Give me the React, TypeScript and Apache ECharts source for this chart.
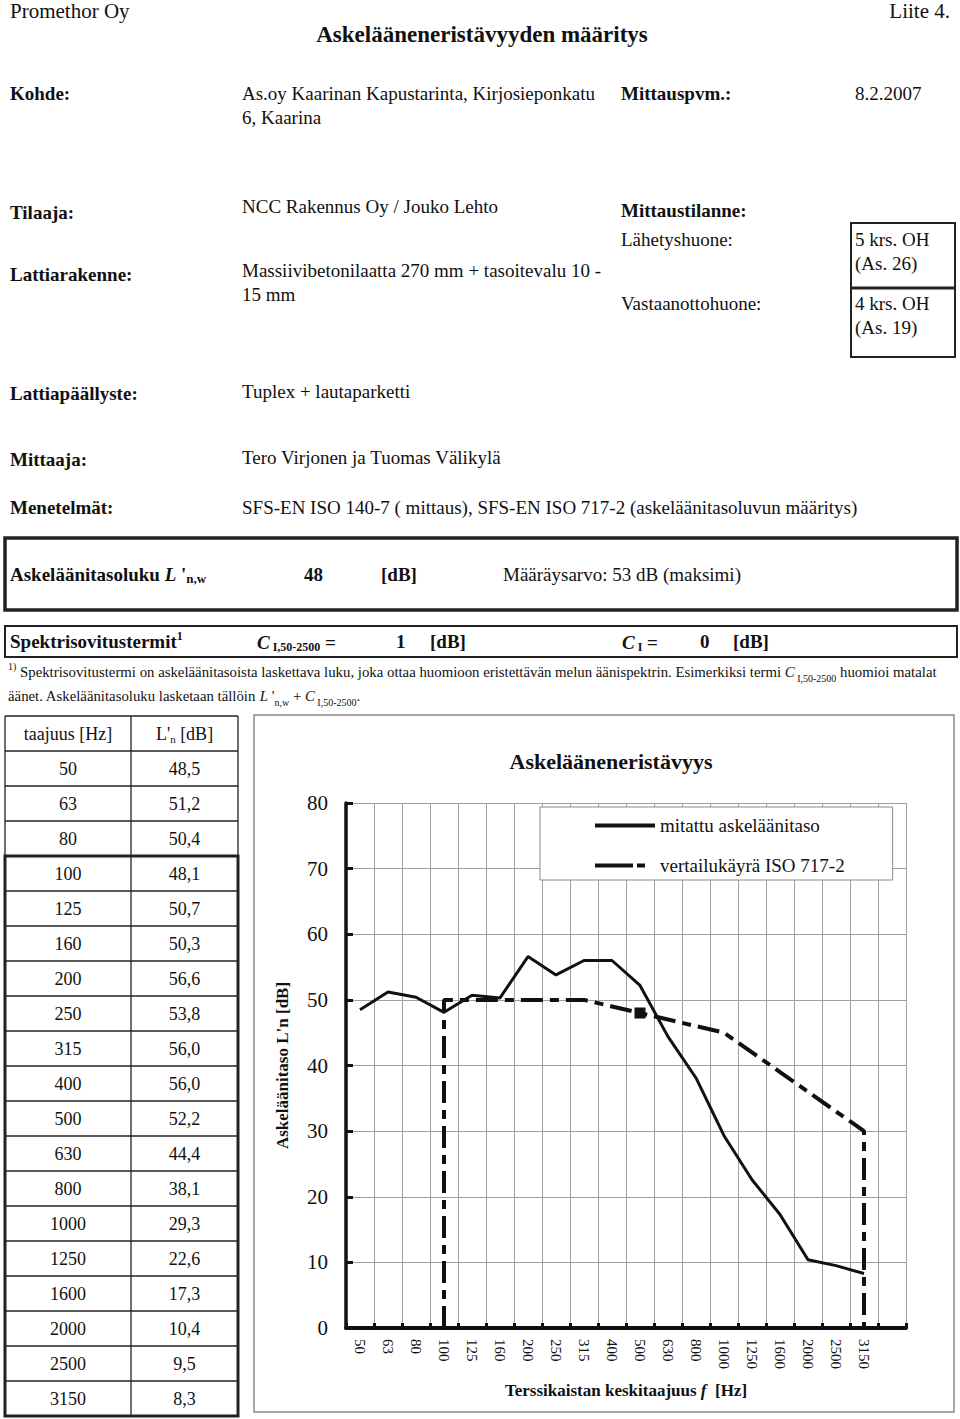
import React, { useEffect, useRef } from "react";
import * as echarts from "echarts";

const freqs = ["50", "63", "80", "100", "125", "160", "200", "250", "315", "400", "500", "630", "800", "1000", "1250", "1600", "2000", "2500", "3150"];
const measured = [48.5, 51.2, 50.4, 48.1, 50.7, 50.3, 56.6, 53.8, 56.0, 56.0, 52.2, 44.4, 38.1, 29.3, 22.6, 17.3, 10.4, 9.5, 8.3];
const refFreqs = ["100", "125", "160", "200", "250", "315", "400", "500", "630", "800", "1000", "1250", "1600", "2000", "2500", "3150"];
const refValues = [50, 50, 50, 50, 50, 50, 49, 48, 47, 46, 45, 42, 39, 36, 33, 30];
const refMarkerFreq = "500";
const refMarkerValue = 48;
const yMin = 0;
const yMax = 80;
const yStep = 10;

const seriesNames = ["mitattu askeläänitaso", "vertailukäyrä ISO 717-2"];

const FF = '"Liberation Serif", "Times New Roman", serif';
const INK = "#111";

type TO = { size?: number; bold?: boolean; italic?: boolean; align?: string; rich?: any };
const T = (x: number, y: number, text: string, o: TO = {}) => ({
  type: "text",
  x,
  y,
  silent: true,
  style: {
    text,
    fontFamily: FF,
    fontSize: o.size || 19,
    fontWeight: o.bold ? "bold" : "normal",
    fontStyle: o.italic ? "italic" : "normal",
    fill: INK,
    align: o.align || "left",
    verticalAlign: "middle",
    rich: o.rich,
  },
});

const rt = (size: number, bold: boolean, italic: boolean, va?: string) => ({
  fontFamily: FF,
  fontSize: size,
  fontWeight: bold ? "bold" : "normal",
  fontStyle: italic ? "italic" : "normal",
  color: INK,
  verticalAlign: va,
  lineHeight: 22,
});

const R = (x: number, y: number, w: number, h: number, lw: number, stroke = "#222") => ({
  type: "rect",
  silent: true,
  shape: { x, y, width: w, height: h },
  style: { fill: "none", stroke, lineWidth: lw },
});
const L = (x1: number, y1: number, x2: number, y2: number, lw: number, stroke = "#222") => ({
  type: "line",
  silent: true,
  shape: { x1, y1, x2, y2 },
  style: { stroke, lineWidth: lw },
});

function buildGraphic() {
  const g: any[] = [];
  // header
  g.push(T(10, 11, "Promethor Oy", { size: 21 }));
  g.push(T(950, 11, "Liite 4.", { size: 21, align: "right" }));
  g.push(T(482, 34, "Askelääneneristävyyden määritys", { size: 23, bold: true, align: "center" }));

  g.push(T(10, 93, "Kohde:", { bold: true }));
  g.push(T(242, 93, "As.oy Kaarinan Kapustarinta, Kirjosieponkatu"));
  g.push(T(242, 117, "6, Kaarina"));
  g.push(T(621, 93, "Mittauspvm.:", { bold: true }));
  g.push(T(855, 93, "8.2.2007"));

  g.push(T(10, 212, "Tilaaja:", { bold: true }));
  g.push(T(242, 206, "NCC Rakennus Oy / Jouko Lehto"));
  g.push(T(621, 210, "Mittaustilanne:", { bold: true }));
  g.push(T(621, 239, "Lähetyshuone:"));
  g.push(T(621, 303, "Vastaanottohuone:"));

  g.push(R(851, 223, 104, 134, 2));
  g.push(L(851, 288, 955, 288, 3));
  g.push(T(855, 239, "5 krs. OH"));
  g.push(T(855, 263, "(As. 26)"));
  g.push(T(855, 303, "4 krs. OH"));
  g.push(T(855, 327, "(As. 19)"));

  g.push(T(10, 274, "Lattiarakenne:", { bold: true }));
  g.push(T(242, 270, "Massiivibetonilaatta 270 mm + tasoitevalu 10 -"));
  g.push(T(242, 294, "15 mm"));

  g.push(T(10, 393, "Lattiapäällyste:", { bold: true }));
  g.push(T(242, 391, "Tuplex + lautaparketti"));
  g.push(T(10, 459, "Mittaaja:", { bold: true }));
  g.push(T(242, 457, "Tero Virjonen ja Tuomas Välikylä"));
  g.push(T(10, 507, "Menetelmät:", { bold: true }));
  g.push(T(242, 507, "SFS-EN ISO 140-7 ( mittaus), SFS-EN ISO 717-2 (askeläänitasoluvun määritys)"));

  // box 1
  g.push(R(5, 538, 952, 72, 3.5));
  g.push(
    T(10, 574, "{b|Askeläänitasoluku }{bi|L}{b| '}{s|n,w}", {
      rich: { b: rt(19, true, false), bi: rt(19, true, true), s: rt(13, true, false, "bottom") },
    })
  );
  g.push(T(304, 574, "48", { bold: true }));
  g.push(T(381, 574, "[dB]", { bold: true }));
  g.push(T(503, 574, "Määräysarvo: 53 dB (maksimi)"));

  // box 2
  g.push(R(5, 626, 952, 31, 2));
  g.push(
    T(10, 641, "{b|Spektrisovitustermit}{u|1}", {
      rich: { b: rt(19, true, false), u: rt(12, true, false, "top") },
    })
  );
  g.push(
    T(257, 642, "{bi|C}{s| I,50-2500}{b| =}", {
      rich: { b: rt(19, true, false), bi: rt(19, true, true), s: rt(12, true, false, "bottom") },
    })
  );
  g.push(T(396, 641, "1", { bold: true }));
  g.push(T(430, 641, "[dB]", { bold: true }));
  g.push(
    T(622, 642, "{bi|C}{s| I}{b| =}", {
      rich: { b: rt(19, true, false), bi: rt(19, true, true), s: rt(12, true, false, "bottom") },
    })
  );
  g.push(T(700, 641, "0", { bold: true }));
  g.push(T(733, 641, "[dB]", { bold: true }));

  // footnote
  const fr = {
    n: rt(14.8, false, false),
    i: rt(14.8, false, true),
    s: rt(10, false, false, "bottom"),
    u: rt(10, false, false, "top"),
  };
  g.push(
    T(
      8,
      672,
      "{u|1)}{n| Spektrisovitustermi on askeläänitasoista laskettava luku, joka ottaa huomioon eristettävän melun äänispektrin. Esimerkiksi termi }{i|C}{s| I,50-2500}{n| huomioi matalat}",
      { rich: fr }
    )
  );
  g.push(
    T(8, 696, "{n|äänet. Askeläänitasoluku lasketaan tällöin }{i|L}{n| '}{s|n,w}{n| + }{i|C}{s| I,50-2500}{n|.}", {
      rich: fr,
    })
  );

  // table
  const x0 = 5,
    x1 = 131,
    x2 = 238,
    y0 = 716,
    rh = 35;
  const nRows = freqs.length + 1;
  for (let k = 0; k <= nRows; k++) g.push(L(x0, y0 + k * rh, x2, y0 + k * rh, 1.3));
  g.push(L(x0, y0, x0, y0 + nRows * rh, 1.3));
  g.push(L(x1, y0, x1, y0 + nRows * rh, 1.3));
  g.push(L(x2, y0, x2, y0 + nRows * rh, 1.3));
  g.push(R(x0, y0 + 4 * rh, x2 - x0, (nRows - 4) * rh, 3));
  const c1 = (x0 + x1) / 2,
    c2 = (x1 + x2) / 2;
  g.push(T(c1, y0 + rh / 2, "taajuus [Hz]", { size: 18, align: "center" }));
  g.push(
    T(c2, y0 + rh / 2, "{n|L'}{s|n}{n| [dB]}", {
      align: "center",
      rich: { n: rt(18, false, false), s: rt(11, false, false, "bottom") },
    })
  );
  freqs.forEach((f, i) => {
    const cy = y0 + rh * (i + 1) + rh / 2;
    g.push(T(c1, cy, f, { size: 18, align: "center" }));
    g.push(T(c2, cy, measured[i].toFixed(1).replace(".", ","), { size: 18, align: "center" }));
  });

  // chart frame
  g.push({ ...R(254, 715, 700, 697, 1.5, "#8a8a8a"), z: -1 });
  return g;
}

export default function App() {
  const ref = useRef<HTMLDivElement>(null);
  useEffect(() => {
    if (!ref.current) return;
    const chart = echarts.init(ref.current, null, { renderer: "svg" });
    const cats = [...freqs, ""];
    const refData: any[] = [[freqs.indexOf(refFreqs[0]), yMin]];
    refFreqs.forEach((f, i) => refData.push([freqs.indexOf(f), refValues[i]]));
    refData.push([freqs.indexOf(refFreqs[refFreqs.length - 1]), yMin]);

    const dashPattern = [22, 7, 9, 7];
    chart.setOption({
      animation: false,
      backgroundColor: "#fff",
      textStyle: { fontFamily: FF, color: INK },
      title: {
        text: "Askelääneneristävyys",
        left: 606,
        top: 745,
        textAlign: "center",
        textStyle: { fontFamily: FF, fontSize: 22, fontWeight: "bold", color: INK },
      },
      legend: {
        orient: "vertical",
        left: 540,
        top: 807,
        padding: [9, 48, 5, 53],
        itemGap: 21,
        itemWidth: 60,
        itemHeight: 14,
        selectedMode: false,
        backgroundColor: "#fff",
        borderColor: "#8a8a8a",
        borderWidth: 1,
        itemStyle: { color: "rgba(0,0,0,0)", opacity: 0, borderWidth: 0 },
        textStyle: { fontFamily: FF, fontSize: 19, color: INK },
        data: [
          { name: seriesNames[0], lineStyle: { width: 4, type: "solid" } },
          { name: seriesNames[1], lineStyle: { width: 4, type: [38, 4, 8, 10] } },
        ],
      },
      grid: { left: 346, top: 803, width: 560, height: 525, containLabel: false },
      xAxis: {
        type: "category",
        data: cats,
        boundaryGap: true,
        name: "{b|Terssikaistan keskitaajuus }{i|f}{b|  [Hz]}",
        nameLocation: "middle",
        nameGap: 54,
        nameTextStyle: {
          rich: {
            b: { fontFamily: FF, fontSize: 17, fontWeight: "bold", color: INK },
            i: { fontFamily: FF, fontSize: 17, fontWeight: "bold", fontStyle: "italic", color: INK },
          },
        },
        axisLine: { show: true, lineStyle: { color: INK, width: 4 } },
        axisTick: { show: true, inside: true, interval: 0, length: 5, lineStyle: { color: INK, width: 3 } },
        splitLine: { show: true, interval: 0, lineStyle: { color: "#a0a0a0", width: 1 } },
        axisLabel: { interval: 0, rotate: -90, margin: 11, fontFamily: FF, fontSize: 15, color: INK },
      },
      yAxis: {
        type: "value",
        min: yMin,
        max: yMax,
        interval: yStep,
        name: "Askeläänitaso L'n [dB]",
        nameLocation: "middle",
        nameRotate: 90,
        nameGap: 55,
        nameTextStyle: { fontFamily: FF, fontSize: 17, fontWeight: "bold", color: INK },
        axisLine: { show: true, lineStyle: { color: INK, width: 3.5 } },
        axisTick: { show: true, inside: true, length: 7, lineStyle: { color: INK, width: 3 } },
        splitLine: { show: true, lineStyle: { color: "#a0a0a0", width: 1 } },
        axisLabel: { margin: 18, fontFamily: FF, fontSize: 21, color: INK },
      },
      series: [
        {
          name: seriesNames[0],
          type: "line",
          data: measured,
          symbol: "none",
          lineStyle: { color: INK, width: 3 },
          itemStyle: { color: INK },
          z: 3,
        },
        {
          name: seriesNames[1],
          type: "line",
          data: refData,
          symbol: "none",
          lineStyle: { color: INK, width: 4, type: dashPattern },
          itemStyle: { color: INK },
          z: 2,
          markPoint: {
            symbol: "rect",
            symbolSize: 11,
            itemStyle: { color: INK },
            label: { show: false },
            data: [{ coord: [freqs.indexOf(refMarkerFreq), refMarkerValue] }],
          },
        },
      ],
      graphic: buildGraphic(),
    });
    return () => chart.dispose();
  }, []);
  return (
    <div
      ref={ref}
      style={{ position: "absolute", left: 0, top: 0, width: 960, height: 1419, background: "#fff" }}
    />
  );
}
